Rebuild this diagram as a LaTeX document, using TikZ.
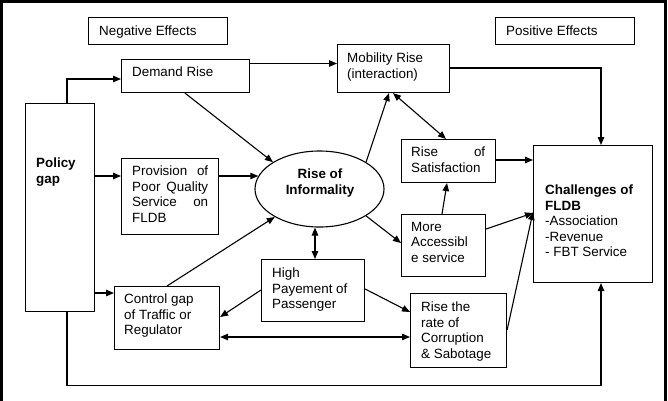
\documentclass[tikz,border=0pt]{standalone}
\usepackage{fontspec}
\setmainfont{Liberation Sans}
\usetikzlibrary{arrows.meta,shapes.geometric}
\begin{document}
\begin{tikzpicture}[x=1pt,y=-1pt,
  box/.style={draw, line width=1.1pt, inner sep=0pt, anchor=north west},
  txt/.style={anchor=north west, inner sep=0pt, align=left, font=\fontsize{13.4}{15.5}\selectfont},
  txtb/.style={txt, font=\fontsize{13.4}{15.5}\selectfont\bfseries},
  arr/.style={line width=1.1pt, -{Triangle[length=8pt,width=6.5pt]}},
  darr/.style={line width=1.1pt, {Triangle[length=8pt,width=6.5pt]}-{Triangle[length=8pt,width=6.5pt]}}]
\useasboundingbox (0,0) rectangle (668,400);
\draw[line width=2.6pt] (1.3,402) -- (1.3,1.3) -- (665.7,1.3) -- (665.7,402);

% boxes
\node[box, minimum width=139pt, minimum height=27pt] (neg) at (88,17) {};
\node[box, minimum width=139pt, minimum height=27pt] (pos) at (495,17) {};
\node[box, minimum width=128pt, minimum height=33pt] (dr) at (121,59) {};
\node[box, minimum width=112pt, minimum height=48pt] (mr) at (337,44) {};
\node[box, minimum width=69pt, minimum height=208pt] (pg) at (25,103) {};
\node[box, minimum width=97pt, minimum height=76pt] (pq) at (121,158) {};
\node[draw, ellipse, line width=1.1pt, inner sep=0pt, minimum width=129pt, minimum height=76pt] (rf) at (319.5,189) {};
\node[box, minimum width=94pt, minimum height=43pt] (rs) at (401,139) {};
\node[box, minimum width=119pt, minimum height=137pt] (ch) at (533,145) {};
\node[box, minimum width=84pt, minimum height=62pt] (ma) at (401,214) {};
\node[box, minimum width=103pt, minimum height=62pt] (hp) at (261,259) {};
\node[box, minimum width=105pt, minimum height=63pt] (cg) at (114,286) {};
\node[box, minimum width=96pt, minimum height=74pt] (co) at (410,293) {};

% texts
\node[txt] (negt) at (99,25.7) {Negative Effects};
\node[txt] (post) at (506,25.7) {Positive Effects};
\node[txt] (drt) at (132,67) {Demand Rise};
\node[txt] (mrt) at (347,53) {Mobility Rise\\(interaction)};
\node[txtb] (pgt) at (36,158) {Policy\\gap};
\node[txt, text width=76pt] (pqt) at (132,166) {Provision\hfill of\\Poor\hfill Quality\\Service\hfill on\\FLDB};
\node[txtb, anchor=north, align=center] (rft) at (320,169) {Rise of\\Informality};
\node[txt, text width=74pt] (rst) at (411,147) {Rise\hfill of\\Satisfaction};
\node[txt] (mat) at (411,222) {More\\Accessibl\\e service};
\node[txt] (hpt) at (272,268) {High\\Payement of\\Passenger};
\node[txt] (cgt) at (124,294) {Control gap\\of Traffic or\\Regulator};
\node[txt] (cot) at (421,302) {Rise the\\rate of\\Corruption\\\& Sabotage};
\node[txt] (cht) at (545,185) {\textbf{Challenges of}\\\textbf{FLDB}\\-Association\\-Revenue\\- FBT Service};

% connectors
\coordinate (a1) at ([xshift=42pt]pg.north west);
\coordinate (a2) at ([yshift=-20pt]dr.north west);
\draw[arr] (a1) |- (a2);

\coordinate (b1) at ([yshift=-18pt]pq.north west);
\draw[arr] (pg.east |- b1) -- (b1);
\coordinate (b2) at ([yshift=-18pt]pq.north east);
\draw[arr] (b2) -- (b2 -| rf.168);

\draw[arr] ([xshift=64pt]dr.south west) -- (rf.150);

\coordinate (c1) at ([yshift=-4.5pt]dr.north east);
\draw[arr] (c1) -- (c1 -| mr.west);

\draw[arr] ([yshift=-24pt]mr.north east) -| ([xshift=68pt]ch.north west);

\draw[arr] (rf.30) -- ([xshift=52pt]mr.south west);
\draw[darr] ([xshift=56pt]mr.south west) -- ([xshift=45pt]rs.north west);

\coordinate (d1) at ([yshift=-21pt]rs.north east);
\draw[arr] (d1) -- (d1 -| ch.west);

\draw[arr] ([xshift=41pt]ma.north west) -- ([xshift=46pt]rs.south west);
\draw[arr] (rf.330) -- ([yshift=-29pt]ma.north west);
\draw[arr] ([yshift=-15pt]ma.north east) -- ([yshift=-68pt]ch.north west);
\draw[arr] ([yshift=-37pt]co.north east) -- ([yshift=-67pt]ch.north west);

\coordinate (e1) at ([xshift=42pt]pg.south west);
\coordinate (e2) at ([xshift=68pt]ch.south west);
\draw[arr] (e1) -- ++(0,73) -| (e2);

\coordinate (f1) at ([xshift=54pt]hp.north west);
\draw[darr] (f1) -- (f1 |- rf.south);

\draw[arr] ([yshift=-31pt]hp.north west) -- ([yshift=-31pt]cg.north east);

\coordinate (g1) at ([yshift=-7pt]cg.north west);
\draw[arr] (pg.east |- g1) -- (g1);

\draw[arr] ([xshift=53pt]cg.north west) -- (rf.212);

\coordinate (h1) at ([yshift=-51pt]cg.north east);
\draw[darr] (h1) -- (h1 -| co.west);

\draw[arr] ([yshift=-30pt]hp.north east) -- ([yshift=-19pt]co.north west);
\end{tikzpicture}
\end{document}
